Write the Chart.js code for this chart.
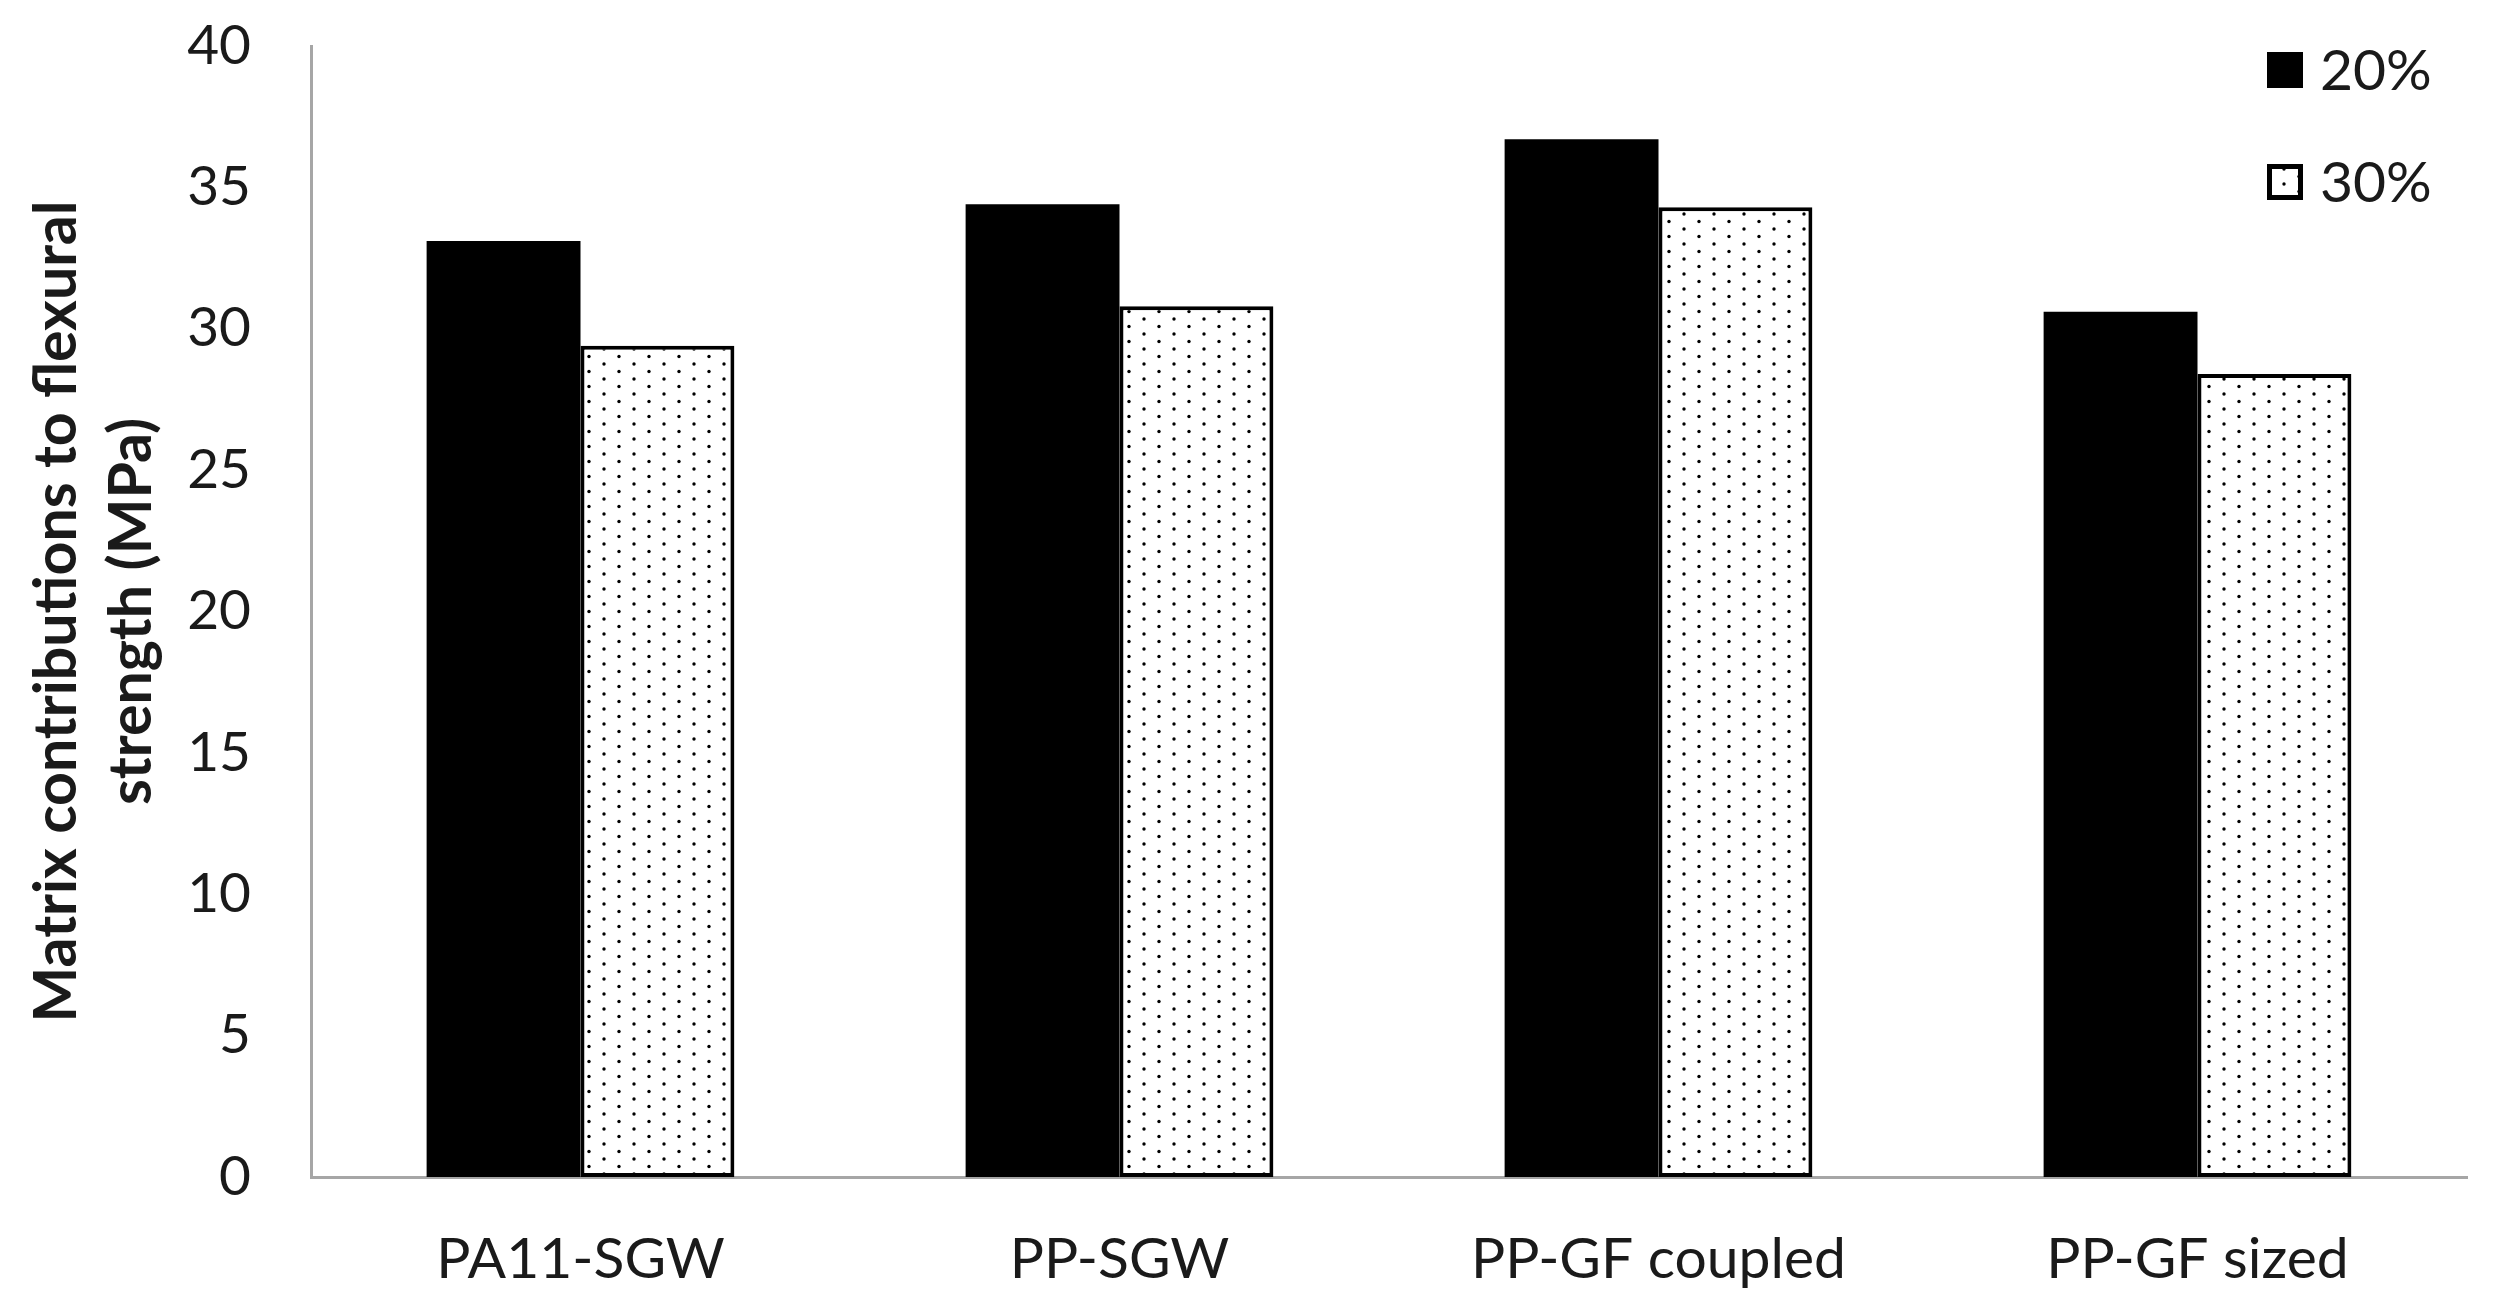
<!DOCTYPE html>
<html>
<head>
<meta charset="utf-8">
<script src="https://cdn.jsdelivr.net/npm/chart.js@4.4.1/dist/chart.umd.min.js"></script>
<style>
  html, body { margin: 0; padding: 0; background: #fff; }
  #wrap { width: 2502px; height: 1311px; }
</style>
</head>
<body>
<div id="wrap"><canvas id="flexChart" width="2502" height="1311"></canvas></div>
<script>
// Chart data
const categories = ['PA11-SGW', 'PP-SGW', 'PP-GF coupled', 'PP-GF sized'];
const seriesLabels = ['20%', '30%'];
const fibre20 = [33.1, 34.4, 36.7, 30.6];
const fibre30 = [29.4, 30.8, 34.3, 28.4];
const yTicks = [0, 5, 10, 15, 20, 25, 30, 35, 40];

const textColor = '#1a1a1a';
const axisColor = '#a6a6a6';

// dotted fill like the Excel "5%" pattern
function dotPattern() {
    const c = document.createElement('canvas');
    c.width = 30;
    c.height = 15;
    const g = c.getContext('2d');
    g.fillStyle = '#ffffff';
    g.fillRect(0, 0, 30, 15);
    g.fillStyle = '#000000';
    [[4, 4], [19, 11.5]].forEach(p => {
        g.beginPath();
        g.arc(p[0], p[1], 1.7, 0, Math.PI * 2);
        g.fill();
    });
    return g.createPattern(c, 'repeat');
}

const ctx = document.getElementById('flexChart').getContext('2d');
const dots = dotPattern();

// legend drawn over the top-right corner of the plot
const cornerLegend = {
    id: 'cornerLegend',
    afterDraw(chart) {
        const c = chart.ctx;
        const x = 2267, size = 36;
        const rows = [70, 182];
        c.save();
        c.font = '57px Lato';
        c.textBaseline = 'middle';
        chart.data.datasets.forEach((ds, i) => {
            const y = rows[i] - size / 2;
            c.fillStyle = ds.backgroundColor;
            c.fillRect(x, y, size, size);
            if (ds.borderWidth) {
                c.lineWidth = 5;
                c.strokeStyle = ds.borderColor;
                c.strokeRect(x + 2.5, y + 2.5, size - 5, size - 5);
            }
            c.fillStyle = textColor;
            c.fillText(ds.label, x + 53, rows[i] + 2);
        });
        c.restore();
    }
};

new Chart(ctx, {
    type: 'bar',
    data: {
        labels: categories,
        datasets: [{
            label: seriesLabels[0],
            data: fibre20,
            backgroundColor: '#000000',
            borderWidth: 0
        }, {
            label: seriesLabels[1],
            data: fibre30,
            backgroundColor: dots,
            borderColor: '#000000',
            borderWidth: 4,
            borderSkipped: false
        }]
    },
    options: {
        responsive: false,
        devicePixelRatio: 1,
        animation: false,
        categoryPercentage: 0.571,
        barPercentage: 1,
        layout: { padding: { top: 46, right: 35, left: 0, bottom: 0 } },
        plugins: {
            legend: { display: false },
            tooltip: { enabled: false }
        },
        scales: {
            x: {
                grid: { display: false, drawTicks: false },
                border: { display: true, color: axisColor, width: 3 },
                ticks: {
                    color: textColor,
                    font: { family: 'Lato', size: 57 },
                    padding: 48
                },
                afterFit: s => { s.height = 134; }
            },
            y: {
                min: 0,
                max: 40,
                // invisible tick marks give the label gap without extra top padding
                grid: { display: false, drawTicks: true, tickLength: 60, tickColor: 'rgba(0,0,0,0)' },
                border: { display: true, color: axisColor, width: 3 },
                afterBuildTicks: s => { s.ticks = yTicks.map(v => ({ value: v })); },
                ticks: {
                    color: textColor,
                    font: { family: 'Lato', size: 55 },
                    padding: 0
                },
                title: {
                    display: true,
                    text: ['Matrix contributions to flexural', 'strength (MPa)'],
                    color: textColor,
                    font: { family: 'Lato', size: 59, weight: 'bold', lineHeight: 1.27 },
                    padding: { top: 20, bottom: 0 }
                },
                afterFit: s => { s.width = 311; }
            }
        }
    },
    plugins: [cornerLegend]
});
</script>
</body>
</html>
